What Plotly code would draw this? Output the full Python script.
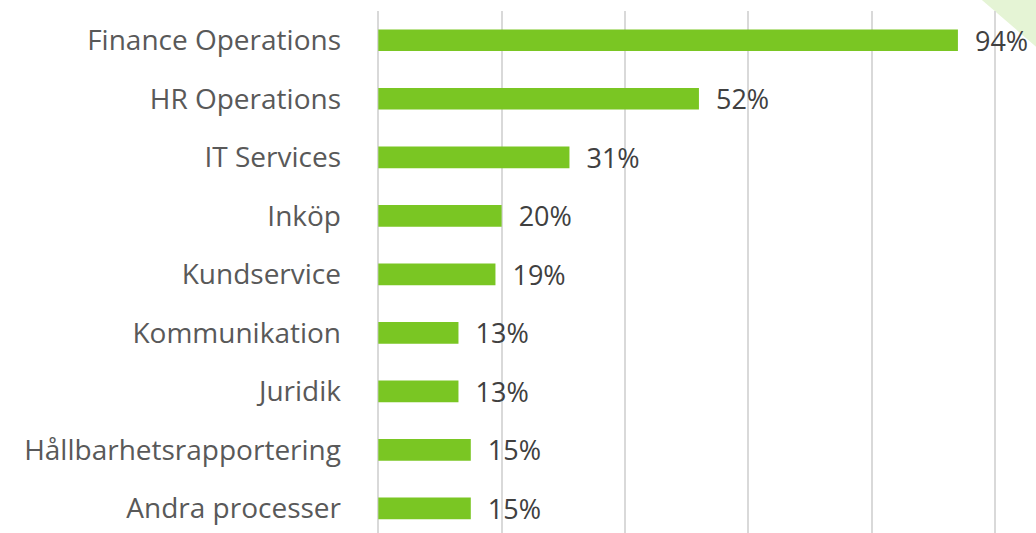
import plotly.graph_objects as go

categories = [
    "Finance Operations",
    "HR Operations",
    "IT Services",
    "Inköp",
    "Kundservice",
    "Kommunikation",
    "Juridik",
    "Hållbarhetsrapportering",
    "Andra processer",
]
values = [94, 52, 31, 20, 19, 13, 13, 15, 15]

BAR_GREEN = "#7AC623"
GRID_GREY = "#D9D9D9"
LABEL_GREY = "#595959"
VALUE_GREY = "#404040"
FONT = "Open Sans"

fig = go.Figure(
    go.Bar(
        x=values,
        y=categories,
        orientation="h",
        marker=dict(color=BAR_GREEN, line=dict(width=0)),
        width=0.37,
        text=values,
        texttemplate="  %{x}%",
        textposition="outside",
        textfont=dict(family=FONT, size=27, color=VALUE_GREY),
        constraintext="none",
        cliponaxis=False,
        hoverinfo="skip",
    )
)

# light green corner accent
fig.add_shape(
    type="path",
    xref="paper", yref="paper",
    path="M 0.974 1.0211 L 1.062 1.0211 L 1.062 0.931 Z",
    fillcolor="#E5F4D5",
    line=dict(width=0),
    layer="below",
)

fig.update_layout(
    width=1036,
    height=533,
    margin=dict(l=378, r=38, t=11, b=0),
    paper_bgcolor="white",
    plot_bgcolor="rgba(0,0,0,0)",
    showlegend=False,
    font=dict(family=FONT, color=LABEL_GREY),
    xaxis=dict(
        range=[-0.05, 100.5],
        dtick=20,
        tick0=0,
        showgrid=True,
        gridcolor=GRID_GREY,
        gridwidth=2,
        zeroline=True,
        zerolinecolor=GRID_GREY,
        zerolinewidth=2,
        showticklabels=False,
        showline=False,
        fixedrange=True,
    ),
    yaxis=dict(
        categoryorder="array",
        categoryarray=categories,
        range=[8.42, -0.5],
        showgrid=False,
        zeroline=False,
        showline=False,
        ticks="",
        ticklabelstandoff=36,
        tickfont=dict(family=FONT, size=28, color=LABEL_GREY),
        fixedrange=True,
    ),
)

fig.write_html("out.html")
